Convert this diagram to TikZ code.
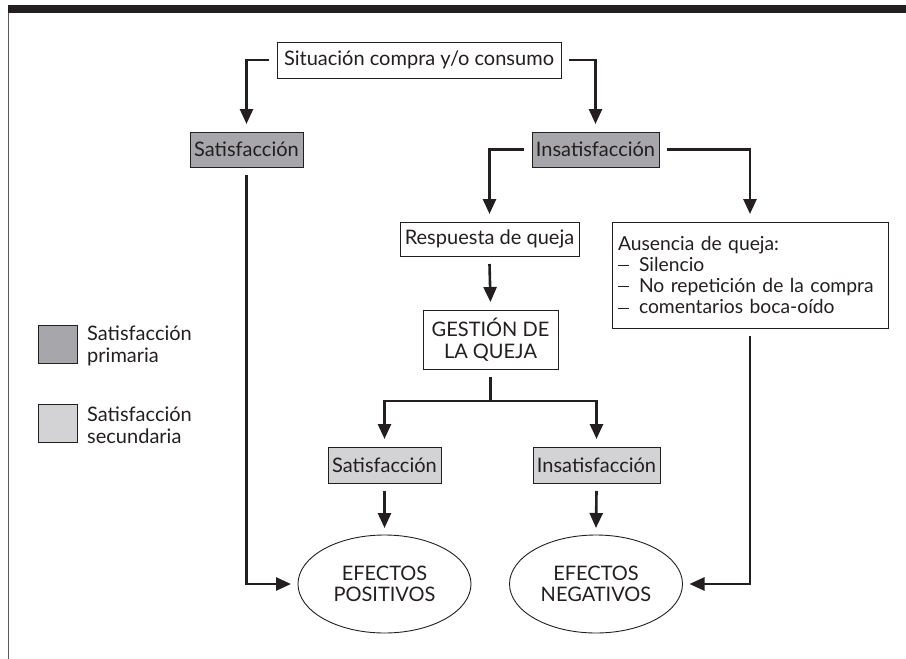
\documentclass[tikz,border=0pt]{standalone}
\usepackage{fontspec}
\setmainfont{Lato}
\usetikzlibrary{arrows.meta,shapes.geometric}
\definecolor{ink}{HTML}{231F20}
\definecolor{primfill}{HTML}{A7A7AB}
\definecolor{secfill}{HTML}{D3D3D5}
\definecolor{framegray}{HTML}{5A5A5A}
\newcommand{\ldash}{\makebox[21pt][l]{\rule[0.27em]{11pt}{1pt}}}
\tikzset{
  txt/.style={font=\fontsize{20}{21.5}\selectfont, text=ink},
  box/.style={txt, draw=ink, line width=1pt, inner sep=0pt, outer sep=8pt, fill=white},
  primbox/.style={box, fill=primfill},
  secbox/.style={box, fill=secfill},
  effect/.style={txt, ellipse, draw=ink, line width=0.9pt, inner sep=0pt, outer sep=7pt,
    minimum width=173pt, minimum height=98pt, align=center},
  conn/.style={draw=ink, line width=2.6pt, -{Triangle[width=13pt,length=15pt]}},
  connline/.style={draw=ink, line width=2.6pt},
  legsq/.style={draw=ink, line width=1pt}
}
\begin{document}
\begin{tikzpicture}[x=1pt,y=-1pt]
\useasboundingbox (0,0) rectangle (906,659);
% frame
\fill[ink] (8,5) rectangle (906,12.5);
\draw[framegray, line width=1.5pt] (8.7,12.5) -- (8.7,659);
% nodes
\node[box, minimum width=284pt, minimum height=36pt] (top) at (419,60) {Situación compra y/o consumo};
\node[primbox, minimum width=113pt, minimum height=35pt] (sat1) at (246.5,149.5) {Satisfacción};
\node[primbox, minimum width=127pt, minimum height=35pt] (ins1) at (595.5,149.5) {Insatisfacción};
\node[box, minimum width=179pt, minimum height=34pt] (resp) at (489.5,239) {Respuesta de queja};
\node[box, minimum width=135pt, minimum height=59pt, align=center] (gest) at (490.5,339.5) {GESTIÓN DE\\LA QUEJA};
\node[box, font=\fontsize{19.3}{21.3}\selectfont, minimum width=276pt, minimum height=106pt, text width=264pt, inner xsep=6pt, align=left] (aus) at (750,275)
 {\mbox{Ausencia de queja:}\\
  \mbox{\ldash Silencio}\\
  \mbox{\ldash No repetición de la compra}\\
  \mbox{\ldash comentarios boca-oído}};
\node[secbox, minimum width=113pt, minimum height=36pt] (sat2) at (384.5,465) {Satisfacción};
\node[secbox, minimum width=127pt, minimum height=36pt] (ins2) at (596.5,465) {Insatisfacción};
\node[effect] (pos) at (384.5,584) {EFECTOS\\POSITIVOS};
\node[effect] (neg) at (596,584) {EFECTOS\\NEGATIVOS};
% legend
\node[legsq, fill=primfill, minimum width=39pt, minimum height=38pt, inner sep=0pt] (lp) at (57.5,344) {};
\node[legsq, fill=secfill, minimum width=39pt, minimum height=38pt, inner sep=0pt] (ls) at (57.5,423) {};
\node[txt, anchor=west, align=left, inner sep=0pt] (lpt) at (87,346) {Satisfacción\\primaria};
\node[txt, anchor=west, align=left, inner sep=0pt] (lst) at (87,425) {Satisfacción\\secundaria};
% connectors
\draw[conn] (top.west) -| (sat1.north);
\draw[conn] (top.east) -| (ins1.north);
\draw[conn] (ins1.west) -| (resp.north);
\draw[conn] (ins1.east) -| (aus.north);
\draw[conn] (resp.south) -- (gest.north);
\coordinate (br) at (490.5,401);
\draw[connline] (gest.south) -- (br);
\draw[conn] (br) -| (sat2.north);
\draw[conn] (br) -| (ins2.north);
\draw[conn] (sat2.south) -- (pos.north);
\draw[conn] (ins2.south) -- (neg.north);
\draw[conn] (sat1.south) |- (pos.west);
\draw[conn] (aus.south) |- (neg.east);
\end{tikzpicture}
\end{document}
